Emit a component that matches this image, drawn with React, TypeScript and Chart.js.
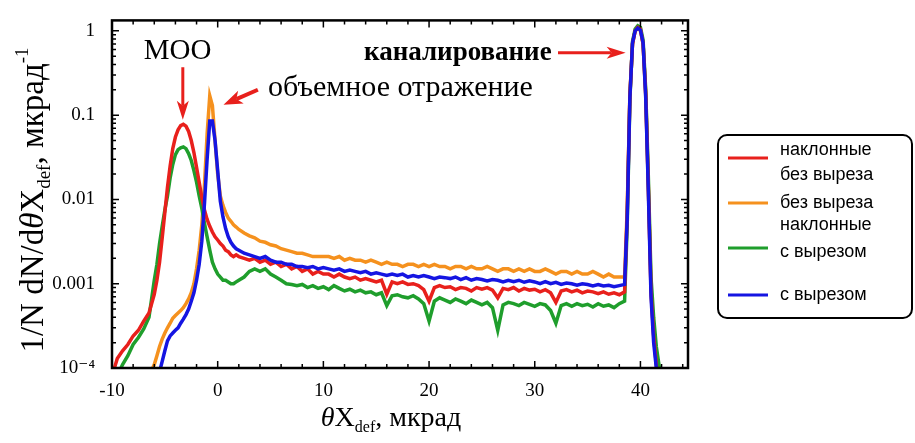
import React, { useEffect, useRef } from "react";
import { Chart, registerables } from "chart.js";
Chart.register(...registerables);

// ---------------- data ----------------
const X = [
  -10, -9.5, -9, -8.5, -8, -7.5, -7, -6.5, -6,
  -5.75, -5.5, -5.25, -5, -4.75, -4.5, -4.25, -4, -3.75, -3.5, -3.25, -3, -2.75, -2.5, -2.25, -2,
  -1.75, -1.5, -1.25, -1, -0.75, -0.5, -0.25, 0, 0.25, 0.5, 0.75, 1, 1.25, 1.5, 1.75, 2,
  2.5, 3, 3.5, 4, 4.5, 5, 5.5, 6, 6.5, 7,
  7.5, 8, 8.5, 9, 9.5, 10, 10.5, 11, 11.5, 12,
  12.5, 13, 13.5, 14, 14.5, 15, 15.5, 16, 16.5, 17,
  17.5, 18, 18.5, 19, 19.5, 20, 20.5, 21, 21.5, 22,
  22.5, 23, 23.5, 24, 24.5, 25, 25.5, 26, 26.5, 27,
  27.5, 28, 28.5, 29, 29.5, 30, 30.5, 31, 31.5, 32,
  32.5, 33, 33.5, 34, 34.5, 35, 35.5, 36, 36.5, 37,
  37.5, 38, 38.5,
  38.75, 39, 39.25, 39.5, 39.75, 40, 40.25, 40.5, 40.75, 41, 41.25, 41.5, 41.75, 42, 42.5, 43, 44, 44.5,
];

// наклонные без выреза
const RED = [
  8e-5, 1.3e-4, 1.6e-4, 1.9e-4, 2.4e-4, 2.8e-4, 3.6e-4, 4.5e-4, 7.5e-4,
  1.1e-3, 1.8e-3, 3.5e-3, 7e-3, 0.014, 0.025, 0.04, 0.055, 0.067, 0.075, 0.078, 0.074, 0.064, 0.05, 0.036, 0.024,
  0.016, 0.0105, 0.0075, 0.0058, 0.0048, 0.0041, 0.0036, 0.0033, 0.003, 0.0028, 0.0025, 0.0024, 0.0022, 0.0021, 0.0022, 0.0021,
  0.002, 0.0019, 0.002, 0.0018, 0.0019, 0.0017, 0.0018, 0.0016, 0.0017, 0.0015,
  0.0016, 0.0014, 0.0015, 0.0013, 0.0014, 0.0013, 0.0013, 0.0012, 0.0013, 0.0012,
  0.00115, 0.0012, 0.0011, 0.00115, 0.0011, 0.00105, 0.0011, 0.00075, 0.00105, 0.001,
  0.00105, 0.00098, 0.001, 0.00095, 0.00085, 0.00062, 0.0009, 0.00095, 0.0009, 0.00092,
  0.00085, 0.0009, 0.00088, 0.00082, 0.0009, 0.00086, 0.0009, 0.00084, 0.00068, 0.00088,
  0.00085, 0.0009, 0.00082, 0.00088, 0.00084, 0.00086, 0.0008, 0.00085, 0.00078, 0.0006,
  0.00082, 0.00085, 0.0008, 0.00084, 0.00078, 0.00082, 0.0008, 0.00076, 0.0008, 0.00075,
  0.00078, 0.00074, 0.0008,
  0.007, 0.17, 0.7, 1.0, 1.1, 1.05, 0.7, 0.18, 0.014, 0.0008, 0.00024, 0.00011, 6e-5, 5e-5, 5e-5, 5e-5, 5e-5, 5e-5,
];

// без выреза
const ORANGE = [
  4e-5, 4e-5, 4e-5, 4e-5, 4e-5, 5e-5, 6e-5, 8e-5, 1.1e-4,
  1.4e-4, 1.8e-4, 2.2e-4, 2.6e-4, 3e-4, 3.4e-4, 3.9e-4, 4.2e-4, 4.5e-4, 4.8e-4, 5.2e-4, 5.8e-4, 6.6e-4, 7.8e-4, 1e-3, 1.5e-3,
  2.5e-3, 5e-3, 0.015, 0.06, 0.17, 0.13, 0.05, 0.02, 0.011, 0.0085, 0.007, 0.006, 0.0055, 0.005, 0.0047, 0.0044,
  0.004, 0.0037, 0.0035, 0.0032, 0.0031, 0.0029, 0.0028, 0.0026, 0.0025, 0.0024,
  0.0023, 0.0023, 0.0022, 0.0021, 0.0021, 0.0021, 0.0021, 0.002, 0.0021, 0.0019,
  0.002, 0.0019, 0.0019, 0.0018, 0.0019, 0.0018, 0.0017, 0.0018, 0.0017, 0.0017,
  0.0016, 0.0017, 0.0017, 0.0016, 0.0017, 0.0016, 0.0017, 0.0016, 0.0016, 0.0015,
  0.0016, 0.0016, 0.0015, 0.0016, 0.0015, 0.0015, 0.0016, 0.0015, 0.0014, 0.0015,
  0.0015, 0.0014, 0.0015, 0.0014, 0.0015, 0.0014, 0.0014, 0.0015, 0.0014, 0.0013,
  0.0014, 0.0014, 0.0013, 0.0014, 0.0013, 0.0013, 0.0014, 0.0013, 0.0012, 0.0013,
  0.0012, 0.0012, 0.0012,
  0.008, 0.17, 0.7, 1.0, 1.08, 1.0, 0.7, 0.17, 0.013, 0.0009, 0.00025, 0.00012, 6e-5, 5e-5, 5e-5, 5e-5, 5e-5, 5e-5,
];

// наклонные с вырезом
const GREEN = [
  6e-5, 8e-5, 1.1e-4, 1.4e-4, 1.9e-4, 2.3e-4, 2.9e-4, 4e-4, 1.1e-3,
  1.7e-3, 3e-3, 4.8e-3, 7.5e-3, 0.011, 0.018, 0.026, 0.034, 0.039, 0.041, 0.042, 0.04, 0.035, 0.029, 0.022, 0.016,
  0.011, 0.0078, 0.0052, 0.0036, 0.0025, 0.0018, 0.0015, 0.0013, 0.0012, 0.0011, 0.0011, 0.00105, 0.001, 0.001, 0.00105, 0.0011,
  0.0012, 0.0014, 0.0015, 0.0014, 0.0015, 0.0013, 0.0012, 0.0011, 0.001, 0.00098,
  0.00095, 0.00098, 0.0009, 0.00095, 0.00088, 0.00092, 0.00085, 0.00095, 0.00088, 0.00082,
  0.00086, 0.0008, 0.00084, 0.00078, 0.0008, 0.00074, 0.00078, 0.00055, 0.00072, 0.00074,
  0.0007, 0.00068, 0.00072, 0.00066, 0.00058, 0.00036, 0.00062, 0.00068, 0.00064, 0.0006,
  0.00066, 0.00062, 0.00058, 0.00064, 0.0006, 0.00056, 0.0006, 0.00052, 0.00028, 0.00056,
  0.0006, 0.00058, 0.00055, 0.0006, 0.00057, 0.00054, 0.00058, 0.00056, 0.00048, 0.00034,
  0.00055, 0.00058, 0.00054, 0.00058, 0.00055, 0.00057, 0.00053, 0.00058, 0.00054, 0.00056,
  0.00052, 0.00058, 0.00062,
  0.005, 0.15, 0.75, 1.05, 1.15, 1.1, 0.78, 0.2, 0.018, 0.0012, 0.0004, 0.00018, 0.00011, 7e-5, 5e-5, 8e-5, 4e-5, 4e-5,
];

// с вырезом
const BLUE = [
  4e-5, 4e-5, 4e-5, 4e-5, 4e-5, 4e-5, 4e-5, 5e-5, 6e-5,
  7e-5, 9e-5, 1.2e-4, 1.6e-4, 2.1e-4, 2.4e-4, 2.6e-4, 2.8e-4, 3e-4, 3.4e-4, 3.8e-4, 4.3e-4, 5e-4, 6.2e-4, 7.8e-4, 1.1e-3,
  1.7e-3, 3.2e-3, 0.009, 0.03, 0.085, 0.085, 0.05, 0.022, 0.0095, 0.0062, 0.0045, 0.0036, 0.0031, 0.0028, 0.0026, 0.0025,
  0.0023, 0.0022, 0.0021, 0.002, 0.0021, 0.0019, 0.0018, 0.0018, 0.0017, 0.0017,
  0.0016, 0.0016, 0.00155, 0.0016, 0.0015, 0.00155, 0.0015, 0.00145, 0.0015, 0.0014,
  0.00145, 0.0014, 0.00135, 0.0014, 0.0013, 0.00135, 0.0013, 0.00125, 0.0013, 0.00125,
  0.0013, 0.0012, 0.00125, 0.0012, 0.00125, 0.0012, 0.00115, 0.0012, 0.00118, 0.00115,
  0.0012, 0.00112, 0.00118, 0.0011, 0.00115, 0.00112, 0.00108, 0.00112, 0.0011, 0.00105,
  0.0011, 0.00106, 0.0011, 0.00104, 0.00108, 0.00105, 0.001, 0.00106, 0.001, 0.00104,
  0.00098, 0.00102, 0.001, 0.00096, 0.001, 0.00098, 0.00094, 0.00098, 0.00094, 0.00096,
  0.00092, 0.00095, 0.00098,
  0.006, 0.16, 0.72, 1.0, 1.08, 1.02, 0.72, 0.16, 0.012, 0.0007, 0.0002, 0.0001, 5e-5, 4e-5, 4e-5, 4e-5, 4e-5, 4e-5,
];

const SERIES = [RED, ORANGE, GREEN, BLUE];
const SERIES_COLORS = ["#e8201c", "#f5911e", "#1f9e2c", "#1515e2"];
const SERIES_ORDER = [1, 3, 2, 0];
const LEGEND_LABELS = [["наклонные", "без выреза"], ["без выреза"], ["наклонные", "с вырезом"], ["с вырезом"]];

const X_TICKS = [-10, 0, 10, 20, 30, 40];
const X_TICK_LABELS = ["-10", "0", "10", "20", "30", "40"];
const Y_TICKS = [1e-4, 1e-3, 1e-2, 1e-1, 1];
const Y_TICK_LABELS = ["10⁻⁴", "0.001", "0.01", "0.1", "1"];

const X_MIN = -10;
const X_MAX = 44.5;
const Y_MIN = 1e-4;
const Y_MAX = 1.33;

const ANNOTATION_TEXTS = ["МОО", "объемное отражение", "каналирование"];

// ---------------- drawing helpers ----------------
const SERIF = '"Liberation Serif", "DejaVu Serif", serif';
const SANS = '"Liberation Sans", "DejaVu Sans", sans-serif';
const ARROW_RED = "#e8201c";

function dart(ctx: CanvasRenderingContext2D, x1: number, y1: number, x2: number, y2: number, lw: number, hl: number, hw: number) {
  const a = Math.atan2(y2 - y1, x2 - x1);
  const c = Math.cos(a), s = Math.sin(a);
  const bx = x2 - hl * c, by = y2 - hl * s;
  ctx.save();
  ctx.strokeStyle = ARROW_RED;
  ctx.fillStyle = ARROW_RED;
  ctx.lineWidth = lw;
  ctx.beginPath();
  ctx.moveTo(x1, y1);
  ctx.lineTo(bx + 2 * c, by + 2 * s);
  ctx.stroke();
  ctx.beginPath();
  ctx.moveTo(x2, y2);
  ctx.lineTo(bx - 3 * c + hw * s, by - 3 * s - hw * c);
  ctx.lineTo(bx + 2 * c, by + 2 * s);
  ctx.lineTo(bx - 3 * c - hw * s, by - 3 * s + hw * c);
  ctx.closePath();
  ctx.fill();
  ctx.restore();
}

type Part = { t: string; size: number; dy: number; italic?: boolean };
function richWidth(ctx: CanvasRenderingContext2D, parts: Part[]) {
  let w = 0;
  for (const p of parts) {
    ctx.font = `${p.italic ? "italic " : ""}${p.size}px ${SERIF}`;
    w += ctx.measureText(p.t).width;
  }
  return w;
}
function drawRich(ctx: CanvasRenderingContext2D, parts: Part[], cx: number, baseline: number) {
  let x = cx - richWidth(ctx, parts) / 2;
  ctx.textAlign = "left";
  ctx.textBaseline = "alphabetic";
  for (const p of parts) {
    ctx.font = `${p.italic ? "italic " : ""}${p.size}px ${SERIF}`;
    ctx.fillText(p.t, x, baseline + p.dy);
    x += ctx.measureText(p.t).width;
  }
}

const decor = {
  id: "decor",
  afterDatasetsDraw(chart: any) {
    const { ctx, chartArea: a, scales } = chart;
    const xs = scales.x, ys = scales.y;
    ctx.save();
    ctx.fillStyle = "#000";
    ctx.strokeStyle = "#000";

    // ticks inward on all four sides
    ctx.lineWidth = 1.5;
    ctx.beginPath();
    for (let v = -10; v <= 44; v += 2) {
      const px = xs.getPixelForValue(v);
      const len = v % 10 === 0 ? 7 : 4;
      ctx.moveTo(px, a.bottom); ctx.lineTo(px, a.bottom - len);
      ctx.moveTo(px, a.top); ctx.lineTo(px, a.top + len);
    }
    for (let d = -4; d <= 0; d++) {
      for (let m = 1; m <= 9; m++) {
        const v = m * Math.pow(10, d);
        if (v > Y_MAX) continue;
        const py = ys.getPixelForValue(v);
        const len = m === 1 ? 7 : 4;
        ctx.moveTo(a.left, py); ctx.lineTo(a.left + len, py);
        ctx.moveTo(a.right, py); ctx.lineTo(a.right - len, py);
      }
    }
    ctx.stroke();

    // frame
    ctx.lineWidth = 2.5;
    ctx.strokeRect(a.left, a.top, a.right - a.left, a.bottom - a.top);

    // annotations (anchored in data coordinates)
    ctx.textBaseline = "middle";
    ctx.textAlign = "center";
    ctx.fillStyle = "#000";
    ctx.font = `29px ${SERIF}`;
    ctx.fillText(ANNOTATION_TEXTS[0], xs.getPixelForValue(-3.8), ys.getPixelForValue(0.57));
    dart(ctx, xs.getPixelForValue(-3.3), ys.getPixelForValue(0.37), xs.getPixelForValue(-3.3), ys.getPixelForValue(0.088), 3, 16, 6);

    ctx.textAlign = "left";
    ctx.fillStyle = "#000";
    ctx.font = `30px ${SERIF}`;
    ctx.fillText(ANNOTATION_TEXTS[1], xs.getPixelForValue(4.75), ys.getPixelForValue(0.21));
    dart(ctx, xs.getPixelForValue(3.8), ys.getPixelForValue(0.2), xs.getPixelForValue(0.55), ys.getPixelForValue(0.133), 4, 16, 7);

    ctx.textAlign = "right";
    ctx.fillStyle = "#000";
    ctx.font = `bold 27px ${SERIF}`;
    ctx.fillText(ANNOTATION_TEXTS[2], xs.getPixelForValue(31.6), ys.getPixelForValue(0.55));
    dart(ctx, xs.getPixelForValue(32.2), ys.getPixelForValue(0.55), xs.getPixelForValue(38.6), ys.getPixelForValue(0.55), 3, 16, 6);

    // axis titles
    ctx.fillStyle = "#000";
    drawRich(ctx, [
      { t: "θ", size: 28, dy: 0, italic: true },
      { t: "X", size: 28, dy: 0 },
      { t: "def", size: 16, dy: 6 },
      { t: ", мкрад", size: 28, dy: 0 },
    ], 391, 426);

    ctx.save();
    ctx.translate(43, 200);
    ctx.rotate(-Math.PI / 2);
    drawRich(ctx, [
      { t: "1/N dN/d", size: 33, dy: 0 },
      { t: "θ", size: 33, dy: 0, italic: true },
      { t: "X", size: 33, dy: 0 },
      { t: "def", size: 19, dy: 7 },
      { t: ", мкрад", size: 33, dy: 0 },
      { t: "-1", size: 19, dy: -15 },
    ], 0, 0);
    ctx.restore();

    // legend
    const bx = 718, by = 135, bw = 194, bh = 183, r = 9;
    ctx.lineWidth = 2;
    ctx.strokeStyle = "#000";
    ctx.beginPath();
    ctx.moveTo(bx + r, by);
    ctx.arcTo(bx + bw, by, bx + bw, by + bh, r);
    ctx.arcTo(bx + bw, by + bh, bx, by + bh, r);
    ctx.arcTo(bx, by + bh, bx, by, r);
    ctx.arcTo(bx, by, bx + bw, by, r);
    ctx.closePath();
    ctx.stroke();

    const lineY = [158, 203, 248, 295];
    const textY = [[150, 175], [203], [225, 252], [295]];
    ctx.font = `18px ${SANS}`;
    ctx.textAlign = "left";
    ctx.textBaseline = "middle";
    for (let i = 0; i < 4; i++) {
      ctx.strokeStyle = SERIES_COLORS[i];
      ctx.lineWidth = 3;
      ctx.beginPath();
      ctx.moveTo(728, lineY[i]);
      ctx.lineTo(768, lineY[i]);
      ctx.stroke();
      ctx.fillStyle = "#000";
      LEGEND_LABELS[i].forEach((t, j) => ctx.fillText(t, 780, textY[i][j]));
    }
    ctx.restore();
  },
};

export default function App() {
  const ref = useRef<HTMLCanvasElement>(null);
  useEffect(() => {
    const chart = new Chart(ref.current as HTMLCanvasElement, {
      type: "line",
      data: {
        datasets: SERIES.map((ys, i) => ({
          label: LEGEND_LABELS[i].join(" "),
          data: X.map((x, k) => ({ x, y: ys[k] })),
          borderColor: SERIES_COLORS[i],
          backgroundColor: SERIES_COLORS[i],
          borderWidth: 3.5,
          pointRadius: 0,
          tension: 0,
          fill: false,
          order: SERIES_ORDER[i],
        })),
      },
      options: {
        animation: false,
        responsive: false,
        devicePixelRatio: 1,
        layout: { padding: { left: 0, top: 10, right: 227, bottom: 0 } },
        plugins: { legend: { display: false }, tooltip: { enabled: false } },
        scales: {
          x: {
            type: "linear",
            min: X_MIN,
            max: X_MAX,
            grid: { display: false },
            border: { display: false },
            ticks: {
              autoSkip: false,
              maxRotation: 0,
              padding: 4,
              color: "#000",
              font: { family: SERIF, size: 19 },
              callback: (v: any) => {
                const i = X_TICKS.indexOf(Number(v));
                return i >= 0 ? X_TICK_LABELS[i] : "";
              },
            },
            afterBuildTicks: (s: any) => { s.ticks = X_TICKS.map((value) => ({ value })); },
            afterFit: (s: any) => { s.height = 75; },
          },
          y: {
            type: "logarithmic",
            min: Y_MIN,
            max: Y_MAX,
            grid: { display: false },
            border: { display: false },
            ticks: {
              autoSkip: false,
              padding: 9,
              color: "#000",
              font: { family: SERIF, size: 19 },
              callback: (v: any) => {
                const i = Y_TICKS.findIndex((t) => Math.abs(t - Number(v)) / t < 1e-6);
                return i >= 0 ? Y_TICK_LABELS[i] : "";
              },
            },
            afterBuildTicks: (s: any) => { s.ticks = Y_TICKS.map((value) => ({ value })); },
            afterFit: (s: any) => { s.width = 112; },
          },
        },
      } as any,
      plugins: [decor],
    });
    return () => chart.destroy();
  }, []);
  return (
    <div style={{ position: "absolute", left: 0, top: 0, width: 915, height: 443, background: "#fff" }}>
      <canvas ref={ref} width={915} height={443} style={{ display: "block", width: 915, height: 443 }} />
    </div>
  );
}
